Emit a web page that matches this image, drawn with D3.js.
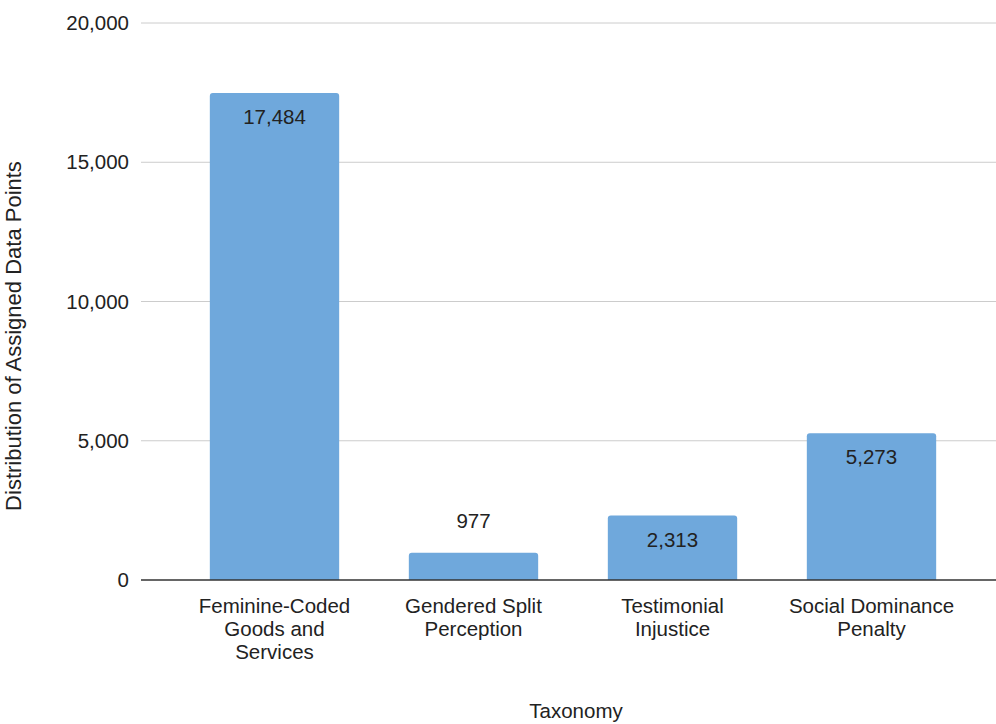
<!DOCTYPE html>
<html><head><meta charset="utf-8">
<script src="https://cdn.jsdelivr.net/npm/d3@7"></script>
<style>body{margin:0;background:#fff}svg{display:block}text{font-family:"Liberation Sans",Arial,sans-serif}</style>
</head><body>
<script>
const categories = [["Feminine-Coded","Goods and","Services"],["Gendered Split","Perception"],["Testimonial","Injustice"],["Social Dominance","Penalty"]];
const values = [17484, 977, 2313, 5273];
const yTicks = [0, 5000, 10000, 15000, 20000];
const yTitle = "Distribution of Assigned Data Points";
const xTitle = "Taxonomy";

const W = 996, H = 724;
const svg = d3.select("body").append("svg").attr("width", W).attr("height", H);
const fmt = d3.format(",");
const idx = categories.map((c,i)=>i);
const x = d3.scaleBand().domain(idx).range([175, 971]).paddingInner(0.35).paddingOuter(0.175);
const y = d3.scaleLinear().domain([0, 20000]).range([580, 23]);
const gridL = 141, gridR = 996;
const FS = 20.5;

// gridlines
svg.append("g").selectAll("line").data(yTicks.filter(d=>d>0)).join("line")
  .attr("x1", gridL).attr("x2", gridR).attr("y1", d=>y(d)).attr("y2", d=>y(d))
  .attr("stroke", "#cccccc").attr("stroke-width", 1);

// y tick labels
svg.append("g").selectAll("text").data(yTicks).join("text")
  .attr("x", 129).attr("y", d=>y(d)).attr("dy", "0.35em").attr("text-anchor","end")
  .attr("font-size", FS).attr("fill", "#222").text(d=>fmt(d));

// bars with rounded top corners
const r = 3;
svg.append("g").selectAll("path").data(idx).join("path")
  .attr("fill", "#6fa8dc")
  .attr("d", i => {
    const x0 = x(i), w = x.bandwidth(), y0 = y(values[i]), y1 = y(0);
    return `M${x0},${y1}V${y0+r}Q${x0},${y0} ${x0+r},${y0}H${x0+w-r}Q${x0+w},${y0} ${x0+w},${y0+r}V${y1}Z`;
  });

// baseline
svg.append("line").attr("x1", gridL).attr("x2", gridR).attr("y1", y(0)).attr("y2", y(0))
  .attr("stroke", "#333").attr("stroke-width", 1.5);

// value labels
svg.append("g").selectAll("text").data(idx).join("text")
  .attr("x", i => x(i) + x.bandwidth()/2)
  .attr("y", i => (y(0) - y(values[i]) > 50) ? y(values[i]) + 31 : y(values[i]) - 25)
  .attr("text-anchor","middle").attr("font-size", FS).attr("fill", "#222")
  .text(i => fmt(values[i]));

// category labels
const cg = svg.append("g").selectAll("text").data(idx).join("text")
  .attr("x", i => x(i) + x.bandwidth()/2).attr("y", 613)
  .attr("text-anchor","middle").attr("font-size", FS).attr("fill", "#222");
cg.selectAll("tspan").data(i => categories[i].map(s=>({s, cx: x(i)+x.bandwidth()/2}))).join("tspan")
  .attr("x", d=>d.cx).attr("dy", (d,j)=> j===0 ? 0 : 23).text(d=>d.s);

// axis titles
svg.append("text").attr("x", 576).attr("y", 718).attr("text-anchor","middle")
  .attr("font-size", FS).attr("fill", "#222").text(xTitle);
svg.append("text").attr("transform", "translate(21,336) rotate(-90)").attr("text-anchor","middle")
  .attr("font-size", 22).attr("fill", "#222").text(yTitle);
</script>
</body></html>
